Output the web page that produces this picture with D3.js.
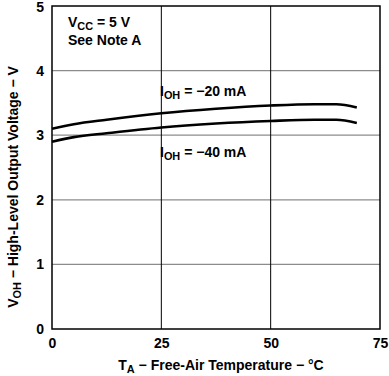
<!DOCTYPE html>
<html>
<head>
<meta charset="utf-8">
<script src="https://cdn.jsdelivr.net/npm/d3@7"></script>
<style>
  body { margin: 0; background: #fff; }
  svg { display: block; font-family: "Liberation Sans", Arial, sans-serif; font-weight: bold; }
</style>
</head>
<body>
<div id="container"></div>
<script>
// Declare the chart dimensions and margins.
const width = 389;
const height = 376;
const marginTop = 6;
const marginRight = 9;
const marginBottom = 47;
const marginLeft = 52;

// Data
const temps = [0, 5, 12.5, 25, 37.5, 50, 60, 65, 69.7];
const voh20 = [3.10, 3.17, 3.24, 3.34, 3.41, 3.46, 3.48, 3.48, 3.43];
const voh40 = [2.90, 2.97, 3.03, 3.12, 3.18, 3.22, 3.24, 3.24, 3.19];
const xTicks = [0, 25, 50, 75];
const yTicks = [0, 1, 2, 3, 4, 5];

const x = d3.scaleLinear().domain([0, 75]).range([marginLeft, width - marginRight]);
const y = d3.scaleLinear().domain([0, 5]).range([height - marginBottom, marginTop]);

const svg = d3.select("#container").append("svg")
    .attr("width", width)
    .attr("height", height)
    .attr("viewBox", [0, 0, width, height]);

// horizontal grid (gray)
svg.append("g")
    .selectAll("line")
    .data(yTicks.slice(1, -1))
    .join("line")
    .attr("x1", marginLeft).attr("x2", width - marginRight)
    .attr("y1", d => y(d)).attr("y2", d => y(d))
    .attr("stroke", "#8c8c8c")
    .attr("stroke-width", 1.2);

// vertical grid (black)
svg.append("g")
    .selectAll("line")
    .data(xTicks.slice(1, -1))
    .join("line")
    .attr("x1", d => x(d)).attr("x2", d => x(d))
    .attr("y1", marginTop).attr("y2", height - marginBottom)
    .attr("stroke", "#000")
    .attr("stroke-width", 1);

// frame
svg.append("rect")
    .attr("x", marginLeft).attr("y", marginTop)
    .attr("width", width - marginLeft - marginRight)
    .attr("height", height - marginTop - marginBottom)
    .attr("fill", "none")
    .attr("stroke", "#000")
    .attr("stroke-width", 1.5);

// curves
const line = d3.line()
    .x((d, i) => x(temps[i]))
    .y(d => y(d))
    .curve(d3.curveMonotoneX);

[voh20, voh40].forEach(s => {
    svg.append("path")
        .datum(s)
        .attr("fill", "none")
        .attr("stroke", "#000")
        .attr("stroke-width", 2.6)
        .attr("d", line);
});

// axes tick labels
svg.append("g")
    .attr("transform", `translate(0,${height - marginBottom})`)
    .call(d3.axisBottom(x).tickValues(xTicks).tickSize(0).tickPadding(9).tickFormat(d3.format("d")))
    .call(g => g.select(".domain").remove())
    .call(g => g.selectAll("text")
        .attr("font-family", "Liberation Sans, Arial, sans-serif")
        .attr("font-weight", "bold")
        .attr("font-size", 14)
        .attr("fill", "#000"));

svg.append("g")
    .attr("transform", `translate(${marginLeft},0)`)
    .call(d3.axisLeft(y).tickValues(yTicks).tickSize(0).tickPadding(8).tickFormat(d3.format("d")))
    .call(g => g.select(".domain").remove())
    .call(g => g.selectAll("text")
        .attr("font-family", "Liberation Sans, Arial, sans-serif")
        .attr("font-weight", "bold")
        .attr("font-size", 14)
        .attr("fill", "#000")
        .attr("dy", d => d === 5 ? "0.42em" : "0.32em"));

// labels with subscripts
function subLabel(px, py, main, sub, rest, size, anchor, rotate) {
    const t = svg.append("text")
        .attr("font-size", size)
        .attr("text-anchor", anchor || "start")
        .attr("fill", "#000");
    if (rotate) t.attr("transform", `translate(${px},${py}) rotate(-90)`);
    else t.attr("x", px).attr("y", py);
    t.append("tspan").text(main);
    t.append("tspan").attr("font-size", size * 0.78).attr("dy", 3).text(sub);
    t.append("tspan").attr("dy", -3).text(rest);
    return t;
}

subLabel(68, 27, "V", "CC", " = 5 V", 14);
svg.append("text").attr("x", 68).attr("y", 45).attr("font-size", 14).text("See Note A");
subLabel(160, 96, "I", "OH", " = \u221220 mA", 14);
subLabel(160, 157, "I", "OH", " = \u221240 mA", 14);

subLabel(221, 370, "T", "A", " \u2212 Free-Air Temperature \u2212 \u00b0C", 14, "middle");
subLabel(18, 187, "V", "OH", " \u2212 High-Level Output Voltage \u2212 V", 14, "middle", true);
</script>
</body>
</html>
